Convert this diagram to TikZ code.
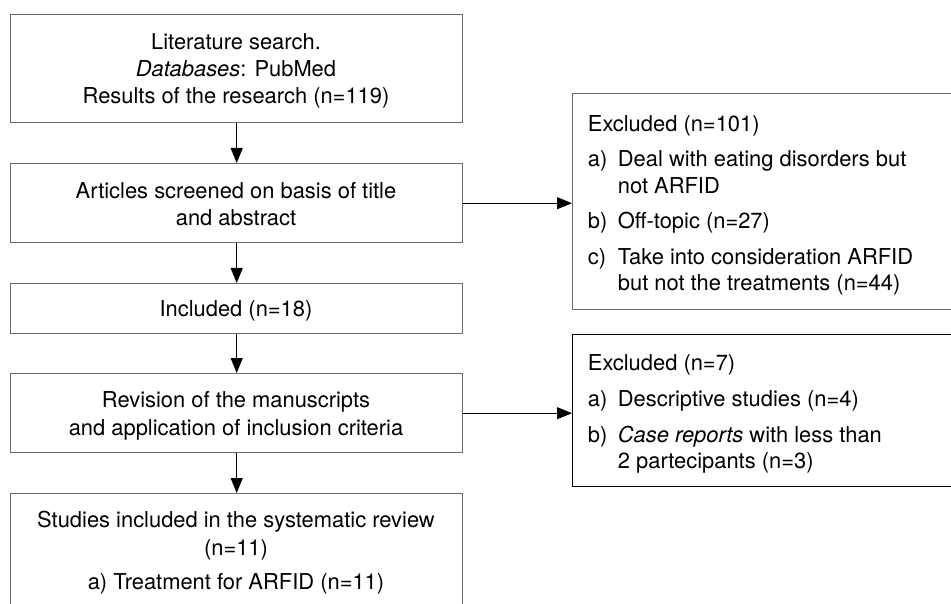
\documentclass[tikz,border=0pt]{standalone}
\usepackage{fontspec}
\setmainfont{TeX Gyre Heros}
\usetikzlibrary{arrows.meta}
\definecolor{boxgray}{HTML}{6A6A6A}
\begin{document}
\begin{tikzpicture}[x=1pt,y=-1pt,
  lbox/.style={draw=boxgray, line width=1.4pt, inner sep=0pt, anchor=north west},
  rbox/.style={draw=black, line width=1.1pt, inner sep=0pt, anchor=north west},
  txt/.style={inner sep=0pt, font=\fontsize{21.9}{27}\selectfont},
  arr/.style={line width=1.1pt, -{Triangle[length=15pt,width=12pt]}}]
\useasboundingbox (0,0) rectangle (951,604);
\clip (0,0) rectangle (951,604);
% boxes
\node[lbox, minimum width=452pt, minimum height=108pt] (b1) at (10,14) {};
\node[lbox, minimum width=452pt, minimum height=79pt] (b2) at (10,163) {};
\node[lbox, minimum width=452pt, minimum height=50pt] (b3) at (10,283) {};
\node[lbox, minimum width=452pt, minimum height=79pt] (b4) at (10,373) {};
\node[lbox, minimum width=452pt, minimum height=160pt] (b5) at (10,493) {};
\node[lbox, minimum width=420pt, minimum height=216pt] (r1) at (572,93) {};
\node[rbox, minimum width=420pt, minimum height=152pt] (r2) at (572,334) {};
% texts (anchor base = baseline of last line)
\node[txt, align=center, anchor=base] (t1) at (236,104)
  {Literature search.\\\textit{Databases}: PubMed\\Results of the research (n=119)};
\node[txt, align=center, anchor=base] (t2) at (236,225.7)
  {Articles screened on basis of title\\[-0.3pt]and abstract};
\node[txt, align=center, anchor=base] (t3) at (236,316.7) {Included (n=18)};
\node[txt, align=center, anchor=base] (t4) at (236,435)
  {Revision of the manuscripts\\[0.7pt]and application of inclusion criteria};
\node[txt, align=center, anchor=base] (t5) at (236,589.7)
  {Studies included in the systematic review\\[1.4pt](n=11)\\[7pt]a) Treatment for ARFID (n=11)};
\node[txt, align=left, anchor=base west] (e1) at (587.7,290.7)
  {Excluded (n=101)\\[8.3pt]
   \makebox[30pt][l]{a)}Deal with eating disorders but\\[-0.3pt]
   \hspace*{30pt}not ARFID\\[8.3pt]
   \makebox[30pt][l]{b)}Off-topic (n=27)\\[8.3pt]
   \makebox[30pt][l]{c)}Take into consideration ARFID\\[-0.3pt]
   \hspace*{30pt}but not the treatments (n=44)};
\node[txt, align=left, anchor=base west] (e2) at (587.7,468.3)
  {Excluded (n=7)\\[9pt]
   \makebox[30pt][l]{a)}Descriptive studies (n=4)\\[9pt]
   \makebox[30pt][l]{b)}\textit{Case reports} with less than\\[-1.3pt]
   \hspace*{30pt}2 partecipants (n=3)};
% connectors
\draw[arr] (b1.south) -- (b2.north);
\draw[arr] (b2.south) -- (b3.north);
\draw[arr] (b3.south) -- (b4.north);
\draw[arr] (b4.south) -- (b5.north);
\draw[arr] (b2.east) -- (b2.east -| r1.west);
\draw[arr] (b4.east) -- (b4.east -| r2.west);
\end{tikzpicture}
\end{document}
